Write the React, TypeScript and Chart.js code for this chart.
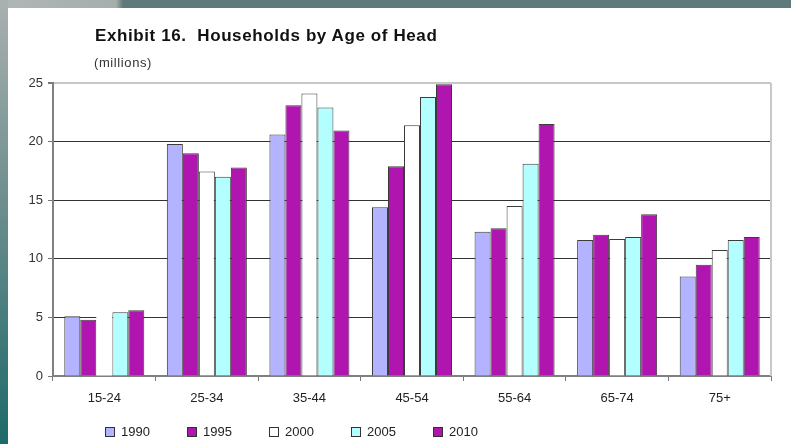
import React, { useEffect, useRef } from "react";
import { Chart, registerables } from "chart.js";

Chart.register(...registerables);

const categories = ["15-24", "25-34", "35-44", "45-54", "55-64", "65-74", "75+"];
const seriesNames = ["1990", "1995", "2000", "2005", "2010"];
const values1990 = [5.1, 19.8, 20.6, 14.4, 12.3, 11.6, 8.5];
const values1995 = [4.8, 19.0, 23.1, 17.9, 12.6, 12.05, 9.5];
const values2000 = [5.9, 17.45, 24.1, 21.4, 14.5, 11.7, 10.75];
const values2005 = [5.45, 17.0, 22.9, 23.8, 18.1, 11.85, 11.6];
const values2010 = [5.6, 17.8, 20.95, 24.9, 21.5, 13.8, 11.85];
const yTicks = [0, 5, 10, 15, 20, 25];

const seriesValues = [values1990, values1995, values2000, values2005, values2010];
const seriesColors = ["#b3b3ff", "#b015b0", "#ffffff", "#b3ffff", "#b015b0"];

const FONT = "'Liberation Sans', Arial, sans-serif";

export default function App() {
  const canvasRef = useRef<HTMLCanvasElement | null>(null);

  useEffect(() => {
    const canvas = canvasRef.current;
    if (!canvas) return;

    const frameBorder = {
      id: "frameBorder",
      afterDraw(chart: any) {
        const { ctx, chartArea } = chart;
        ctx.save();
        ctx.strokeStyle = "#c8c8c8";
        ctx.lineWidth = 2;
        ctx.beginPath();
        ctx.moveTo(chartArea.right, chartArea.top);
        ctx.lineTo(chartArea.right, chartArea.bottom);
        ctx.stroke();
        ctx.restore();
      },
    };

    const chart = new Chart(canvas, {
      type: "bar",
      data: {
        labels: categories,
        datasets: seriesNames.map((name, i) => ({
          label: name,
          data: seriesValues[i],
          backgroundColor: seriesColors[i],
          borderColor: "#3c3c3c",
          borderWidth: i === 2 ? categories.map((_, j) => (j === 0 ? 0 : 1)) : 1,
          categoryPercentage: 0.78,
          barPercentage: 1.0,
        })),
      },
      options: {
        responsive: false,
        animation: false,
        layout: { padding: { left: 0, right: 20, top: 75, bottom: 37 } },
        plugins: {
          legend: { display: false },
          title: { display: false },
          tooltip: { enabled: false },
        },
        scales: {
          x: {
            offset: true,
            grid: {
              offset: true,
              drawOnChartArea: false,
              drawTicks: true,
              tickLength: 5,
              tickColor: "#777777",
            },
            border: { color: "#808080", width: 2 },
            ticks: {
              color: "#222222",
              font: { family: FONT, size: 13 },
              padding: 10,
            },
            afterFit(scale: any) {
              scale.height = 31;
            },
          },
          y: {
            min: 0,
            max: 25,
            afterBuildTicks(scale: any) {
              scale.ticks = yTicks.map((v) => ({ value: v }));
            },
            grid: {
              color: (ctx: any) => (ctx.tick && ctx.tick.value === 25 ? "#c8c8c8" : "#333333"),
              lineWidth: (ctx: any) => (ctx.tick && ctx.tick.value === 25 ? 2 : 1),
              drawTicks: true,
              tickLength: 5,
              tickColor: "#777777",
            },
            border: { color: "#808080", width: 2 },
            ticks: {
              color: "#333333",
              font: { family: FONT, size: 13 },
              padding: 5,
            },
            afterFit(scale: any) {
              scale.width = 45;
            },
          },
        },
      },
      plugins: [frameBorder],
    });

    return () => chart.destroy();
  }, []);

  return (
    <div
      style={{
        position: "fixed",
        left: 0,
        top: 0,
        width: 791,
        height: 444,
        background: "#ffffff",
        overflow: "hidden",
        fontFamily: FONT,
      }}
    >
      <div
        style={{
          position: "absolute",
          left: 0,
          top: 0,
          width: 791,
          height: 8,
          background:
            "linear-gradient(to right, #b0b6b6 0px, #a6adad 116px, #5f7a7a 123px, #5f7a7a 100%)",
        }}
      />
      <div
        style={{
          position: "absolute",
          left: 0,
          top: 0,
          width: 8,
          height: 444,
          background: "linear-gradient(to bottom, #aab0b0 0%, #6e8e8e 45%, #1e6a6a 100%)",
        }}
      />
      <canvas
        ref={canvasRef}
        width={783}
        height={436}
        style={{ position: "absolute", left: 8, top: 8, width: 783, height: 436 }}
      />
      <div
        style={{
          position: "absolute",
          left: 95,
          top: 26,
          fontSize: 17,
          fontWeight: "bold",
          letterSpacing: "0.6px",
          whiteSpace: "pre",
          color: "#111111",
          lineHeight: "20px",
        }}
      >
        {"Exhibit 16.  Households by Age of Head"}
      </div>
      <div
        style={{
          position: "absolute",
          left: 94,
          top: 55,
          fontSize: 13,
          letterSpacing: "0.6px",
          color: "#333333",
          lineHeight: "16px",
          whiteSpace: "pre",
        }}
      >
        (millions)
      </div>
      <div style={{ position: "absolute", left: 105, top: 424, display: "flex" }}>
        {seriesNames.map((name, i) => (
          <div key={name} style={{ width: 82, display: "flex", alignItems: "center" }}>
            <span
              style={{
                display: "inline-block",
                width: 8,
                height: 8,
                background: seriesColors[i],
                border: "1px solid #333333",
                marginRight: 6,
              }}
            />
            <span style={{ fontSize: 13, color: "#222222", lineHeight: "16px" }}>{name}</span>
          </div>
        ))}
      </div>
    </div>
  );
}
